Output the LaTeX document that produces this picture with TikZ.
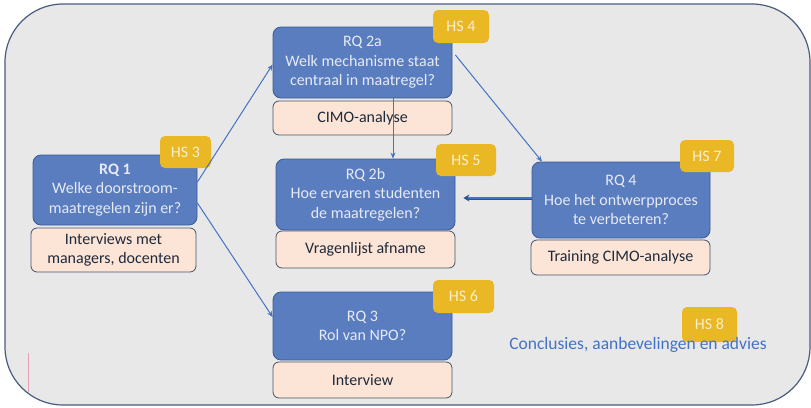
\documentclass[tikz,border=0pt]{standalone}
\usepackage{fontspec}
\setmainfont{Carlito}
\usetikzlibrary{arrows.meta}
\definecolor{panelfill}{HTML}{E8E8E9}
\definecolor{paneledge}{HTML}{4A5C7E}
\definecolor{rqblue}{HTML}{5A7DC0}
\definecolor{rqedge}{HTML}{3A5A94}
\definecolor{rqtext}{HTML}{E6EAF4}
\definecolor{mtfill}{HTML}{FCE4D6}
\definecolor{mtedge}{HTML}{44546A}
\definecolor{mttext}{HTML}{1E2A3A}
\definecolor{hsgold}{HTML}{E9B824}
\definecolor{hstext}{HTML}{F8EED0}
\definecolor{flowblue}{HTML}{4472C4}
\definecolor{flowdark}{HTML}{2F528F}
\definecolor{tagpink}{HTML}{E3A3B4}
\begin{document}
\begin{tikzpicture}[x=1pt,y=-1pt,
        txt/.style={font=\fontsize{16}{19.5}\selectfont, align=center, inner sep=0pt},
        rq/.style={txt, draw=rqedge, fill=rqblue, text=rqtext, rounded corners=8pt, line width=0.8pt},
        method/.style={txt, draw=mtedge, fill=mtfill, text=mttext, rounded corners=6pt, line width=0.8pt},
        hs/.style={txt, fill=hsgold, text=hstext, rounded corners=5pt},
        flow/.style={draw=flowblue, line width=1pt, -{Stealth[length=6pt,width=5pt]}}]
                \useasboundingbox (0,0) rectangle (811,407);
                \draw[fill=panelfill, draw=paneledge, line width=1.2pt, rounded corners=58pt] (5,4) rectangle (810,405);
                \draw[tagpink, line width=0.6pt] (28,353) -- (28,392);

                \node[rq, minimum width=164pt, minimum height=70pt] (rq1) at (115,190) {\textbf{RQ 1}\\Welke doorstroom-\\maatregelen zijn er?};
                \node[method, minimum width=165pt, minimum height=44pt] (m1) at (113.5,250) {Interviews met\\managers, docenten};
                \node[hs, minimum width=51pt, minimum height=32pt] (hs3) at (185.5,152) {HS 3};

                \node[rq, minimum width=179pt, minimum height=71pt] (rq2a) at (362.5,62.5) {RQ 2a\\Welk mechanisme staat\\centraal in maatregel?};
                \node[method, minimum width=179pt, minimum height=34pt] (m2a) at (362.5,118) {CIMO-analyse};
                \node[hs, minimum width=56pt, minimum height=33pt] (hs4) at (461,26.5) {HS 4};

                \node[rq, minimum width=179pt, minimum height=71pt] (rq2b) at (365.5,194.5) {RQ 2b\\Hoe ervaren studenten\\de maatregelen?};
                \node[method, minimum width=179pt, minimum height=37pt] (m2b) at (365.5,249.5) {Vragenlijst afname};
                \node[hs, minimum width=60pt, minimum height=32pt] (hs5) at (466,160) {HS 5};

                \node[rq, minimum width=178pt, minimum height=76pt] (rq4) at (621,200) {RQ 4\\Hoe het ontwerpproces\\te verbeteren?};
                \node[method, minimum width=179pt, minimum height=35pt] (m4) at (620.5,257.5) {Training CIMO-analyse};
                \node[hs, minimum width=54pt, minimum height=32pt] (hs7) at (707,156) {HS 7};

                \node[rq, minimum width=179pt, minimum height=68pt] (rq3) at (362.5,326) {RQ 3\\Rol van NPO?};
                \node[method, minimum width=179pt, minimum height=36pt] (m3) at (362.5,380) {Interview};
                \node[hs, minimum width=61pt, minimum height=33pt] (hs6) at (463.5,296.5) {HS 6};

                \node[hs, minimum width=55pt, minimum height=35pt] (hs8) at (709.5,324.5) {HS 8};
                \node[txt, font=\fontsize{17.5}{21}\selectfont, text=flowblue] (concl) at (638,345) {Conclusies, aanbevelingen en advies};

                \draw[flow] ([yshift=8pt]rq1.east) -- ([yshift=-2pt]rq2a.west);
                \draw[flow] ([yshift=-13pt]rq1.east) -- ([yshift=9pt]rq3.west);
                \draw[flow] ([xshift=30.5pt]rq2a.south) -- ([xshift=27.5pt]rq2b.north);
                \draw[flow] ([xshift=3pt,yshift=7.5pt]rq2a.east) -- ([xshift=-79pt]rq4.north);
                \draw[flowdark, double=flowblue, line width=0.8pt, double distance=1.4pt, -{Stealth[length=6pt,width=7pt]}, shorten >=8pt] ([yshift=2pt]rq4.west) -- ([yshift=2pt]rq4.west -| rq2b.east);
            \end{tikzpicture}
\end{document}
